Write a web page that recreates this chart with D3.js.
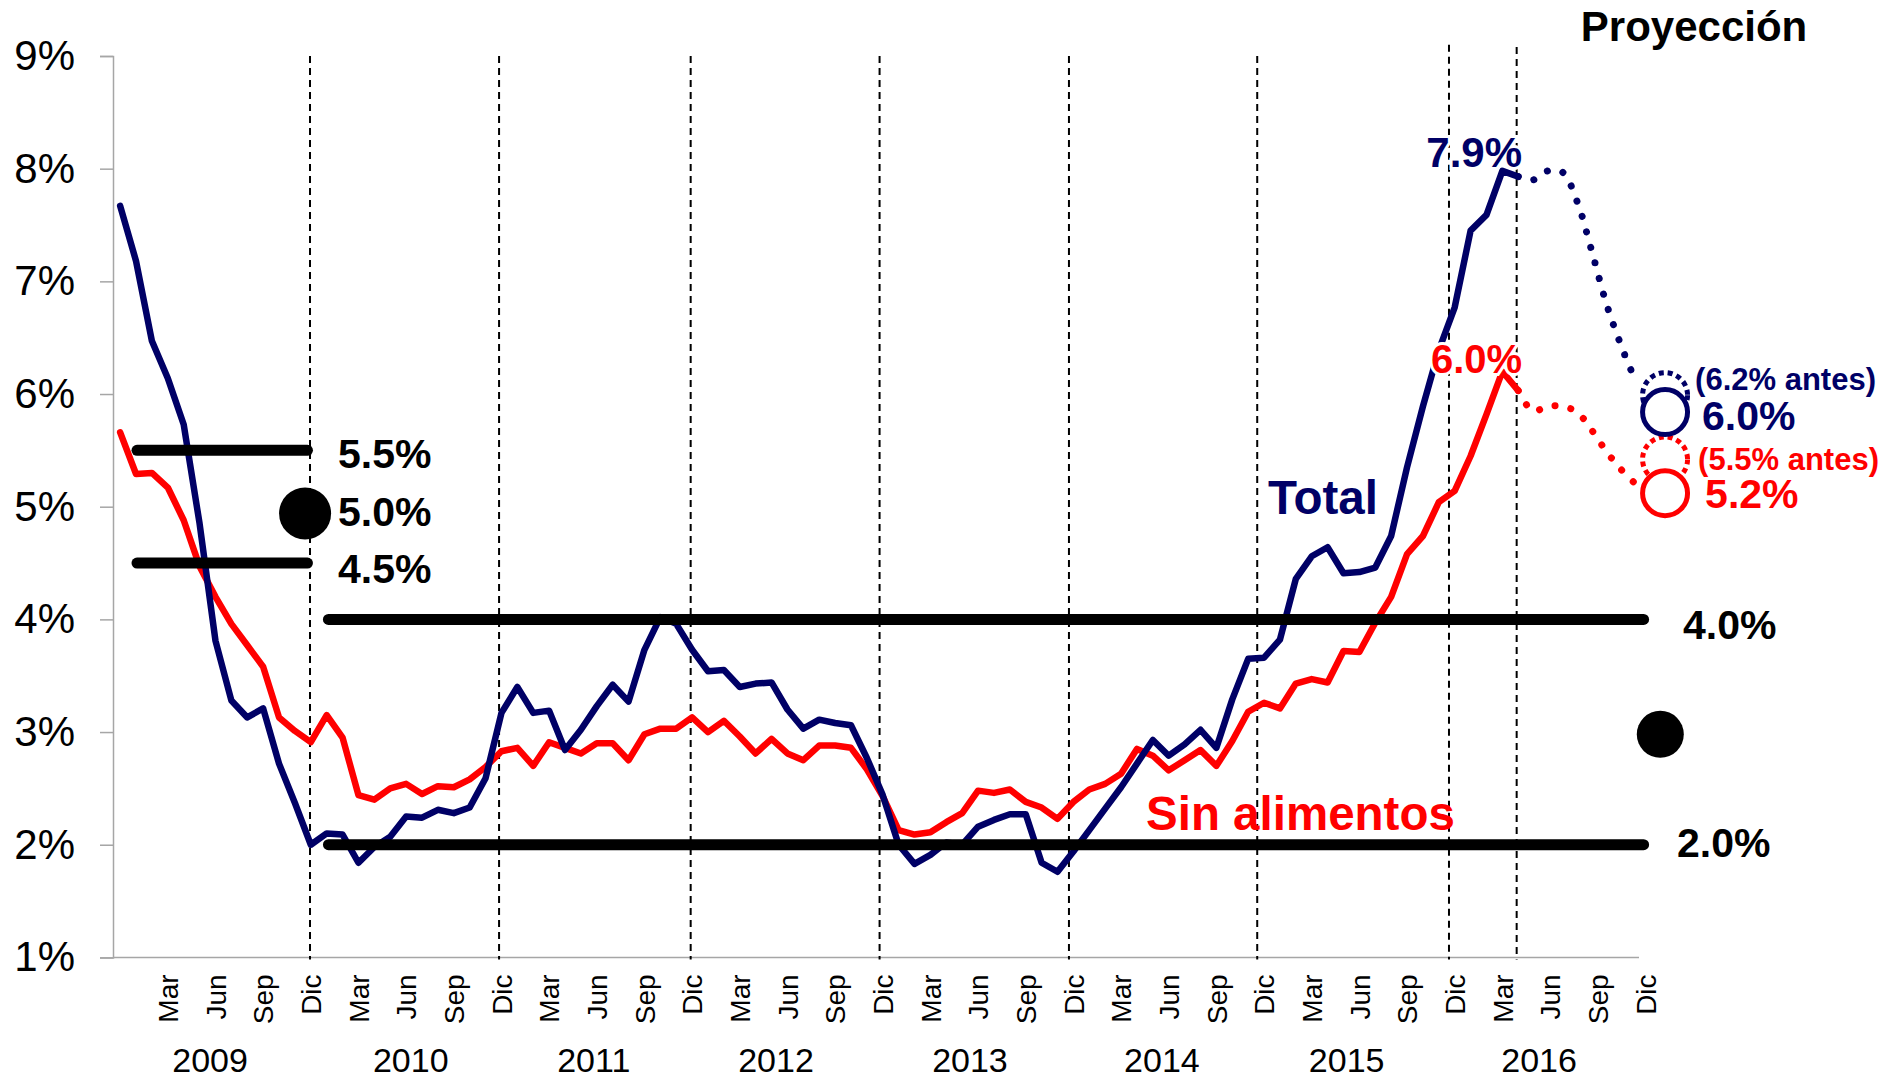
<!DOCTYPE html>
<html lang="es">
<head>
<meta charset="UTF-8">
<title>Inflación total y sin alimentos</title>
<script src="https://d3js.org/d3.v7.min.js"></script>
<style>
body {
  margin: 0;
  background: #fff;
}
svg {
  display: block;
  font-family: "Liberation Sans", Arial, Helvetica, sans-serif;
}
.axis path, .axis line {
  stroke: #a6a6a6;
  stroke-width: 1.5px;
}
.axis text {
  fill: #000;
}
</style>
</head>
<body>
<div id="chart"></div>
<script>

// months: 0 = Dic 2008 ... 88 = Abr 2016 (annual % change)
var total = [7.67,
  7.18, 6.47, 6.14, 5.73, 4.85, 3.81, 3.28, 3.13, 3.21, 2.72, 2.37, 2.00,
  2.10, 2.09, 1.84, 1.98, 2.07, 2.25, 2.24, 2.31, 2.28, 2.33, 2.59, 3.17,
  3.40, 3.17, 3.19, 2.84, 3.02, 3.23, 3.42, 3.27, 3.73, 4.02, 3.96, 3.73,
  3.54, 3.55, 3.40, 3.43, 3.44, 3.20, 3.03, 3.11, 3.08, 3.06, 2.77, 2.44,
  2.00, 1.83, 1.91, 2.02, 2.00, 2.16, 2.22, 2.27, 2.27, 1.84, 1.76, 1.94,
  2.13, 2.32, 2.51, 2.72, 2.93, 2.79, 2.89, 3.02, 2.86, 3.29, 3.65, 3.66,
  3.82, 4.36, 4.56, 4.64, 4.41, 4.42, 4.46, 4.74, 5.35, 5.89, 6.39, 6.77,
  7.45, 7.59, 7.98, 7.93];

var sinAlimentos = [5.66,
  5.29, 5.30, 5.17, 4.88, 4.47, 4.20, 3.96, 3.77, 3.58, 3.13, 3.01, 2.91,
  3.15, 2.95, 2.44, 2.40, 2.50, 2.54, 2.45, 2.52, 2.51, 2.58, 2.69, 2.83,
  2.86, 2.70, 2.91, 2.86, 2.81, 2.90, 2.90, 2.75, 2.98, 3.03, 3.03, 3.13,
  3.00, 3.10, 2.96, 2.81, 2.94, 2.81, 2.75, 2.88, 2.88, 2.86, 2.67, 2.43,
  2.13, 2.09, 2.11, 2.20, 2.28, 2.48, 2.46, 2.49, 2.38, 2.33, 2.23, 2.38,
  2.49, 2.54, 2.63, 2.85, 2.79, 2.66, 2.75, 2.84, 2.70, 2.92, 3.18, 3.26,
  3.21, 3.43, 3.47, 3.44, 3.72, 3.71, 3.97, 4.20, 4.58, 4.74, 5.04, 5.14,
  5.45, 5.82, 6.20, 6.03];

// projection Abr..Dic 2016 (dotted)
var totalProy = [7.93, 7.90, 7.98, 7.97, 7.71, 7.27, 6.80, 6.43, 6.11];
var sinAlimentosProy = [6.03, 5.85, 5.89, 5.89, 5.84, 5.68, 5.49, 5.33, 5.20];

var monthTicks = ["Mar", "Jun", "Sep", "Dic"];
var years = ["2009", "2010", "2011", "2012", "2013", "2014", "2015", "2016"];
var yearCenters = [5.66, 18.29, 29.81, 41.28, 53.49, 65.57, 77.2, 89.31];
var separators = [11.95, 23.85, 35.91, 47.8, 59.72, 71.57, 83.64, 87.9];
var separatorTop = [9, 9, 9, 9, 9, 9, 9.1, 9.08];
var yTicks = [1, 2, 3, 4, 5, 6, 7, 8, 9];

// target ranges: old 4.5-5.5 (2009) and 2-4
var targetBars = [
  {v: 5.5, from: 1.06, to: 11.79},
  {v: 4.5, from: 1.06, to: 11.79},
  {v: 4.0, from: 13.11, to: 95.89},
  {v: 2.0, from: 13.11, to: 95.89}
];
var targetDots = [{m: 11.64, v: 4.94, r: 26}, {m: 96.94, v: 2.98, r: 23.5}];

// projection end points: new and previous (antes)
var projCircles = [
  {m: 97.24, v: 5.99, color: "#000066", dashed: true},
  {m: 97.24, v: 5.42, color: "#ff0000", dashed: true},
  {m: 97.24, v: 5.84, color: "#000066", dashed: false},
  {m: 97.24, v: 5.12, color: "#ff0000", dashed: false}
];

var labels = [
  {text: "5.5%", m: 13.71, v: 5.5, dy: 18, size: 41, color: "#000"},
  {text: "5.0%", m: 13.71, v: 5.0, dy: 19, size: 41, color: "#000"},
  {text: "4.5%", m: 13.71, v: 4.5, dy: 20, size: 41, color: "#000"},
  {text: "4.0%", m: 98.37, v: 4.0, dy: 20, size: 41, color: "#000"},
  {text: "2.0%", m: 97.99, v: 2.0, dy: 12, size: 41, color: "#000"},
  {text: "Total", m: 72.25, v: 4.935, dy: 0, size: 47.5, color: "#000066"},
  {text: "Sin alimentos", m: 64.57, v: 2.13, dy: 0, size: 47.5, color: "#ff0000"},
  {text: "Proyección", m: 91.94, v: 9.133, dy: 0, size: 42, color: "#000"},
  {text: "(6.2% antes)", m: 99.13, v: 6.036, dy: 0, size: 31, color: "#000066"},
  {text: "6.0%", m: 99.57, v: 5.68, dy: 0, size: 41, color: "#000066"},
  {text: "(5.5% antes)", m: 99.32, v: 5.326, dy: 0, size: 31, color: "#ff0000"},
  {text: "5.2%", m: 99.76, v: 4.99, dy: 0, size: 41, color: "#ff0000"}
];
var lastLabels = [
  {text: "7.9%", m: 88.24, v: 7.98, dy: -4, size: 42, color: "#000066"},
  {text: "6.0%", m: 88.24, v: 6.20, dy: 2, size: 40, color: "#ff0000"}
];

var width = 1882, height = 1079;

var svg = d3.select("#chart")
  .append("svg")
    .attr("width", width)
    .attr("height", height);

svg.append("rect").attr("width", width).attr("height", height).attr("fill", "#fff");

var x = d3.scaleLinear().domain([-0.45, 95.6]).range([113, 1639]);
var y = d3.scaleLinear().domain([1, 9]).range([957.4, 56]);
var xProy = d3.scaleLinear().domain([0, 8]).range([x(88), x(95.4)]);

// Y axis
var yAxis = svg.append("g")
  .attr("class", "axis")
  .attr("transform", "translate(" + x.range()[0] + ",0)")
  .call(d3.axisLeft(y).tickValues(yTicks).tickSize(13).tickPadding(25)
    .tickFormat(function(d) { return d + "%"; }));
yAxis.selectAll("text").style("font-size", "42px");

// X axis with month labels
var tickVals = [], tickNames = {};
for (var i = 1; i <= 32; i++) {
  tickVals.push(3 * i);
  tickNames[3 * i] = monthTicks[(i - 1) % 4];
}
var xAxis = svg.append("g")
  .attr("class", "axis")
  .attr("transform", "translate(0," + y(1) + ")")
  .call(d3.axisBottom(x).tickValues(tickVals).tickSize(0)
    .tickFormat(function(d) { return tickNames[d]; }));
xAxis.select(".domain").attr("d", "M" + x.range()[0] + ",0H" + x.range()[1]);
xAxis.selectAll("text")
  .style("font-size", "28px")
  .attr("text-anchor", "end")
  .attr("transform", "rotate(-90)")
  .attr("x", -17)
  .attr("y", 0)
  .attr("dy", "0.35em");

svg.append("g").selectAll("text")
  .data(years)
  .join("text")
    .attr("x", function(d, i) { return x(yearCenters[i]); })
    .attr("y", 1072)
    .attr("text-anchor", "middle")
    .style("font-size", "34px")
    .text(function(d) { return d; });

// year separators
svg.append("g").selectAll("line")
  .data(separators)
  .join("line")
    .attr("x1", function(d) { return x(d); })
    .attr("x2", function(d) { return x(d); })
    .attr("y1", function(d, i) { return y(separatorTop[i]); })
    .attr("y2", y(1) + 2)
    .attr("stroke", "#000")
    .attr("stroke-width", 2)
    .attr("stroke-dasharray", "7,5");

// series
var line = d3.line()
  .x(function(d, i) { return x(i); })
  .y(function(d) { return y(d); });
var lineProy = d3.line()
  .x(function(d, i) { return xProy(i); })
  .y(function(d) { return y(d); })
  .curve(d3.curveCatmullRom);

[[sinAlimentos, sinAlimentosProy, "#ff0000"], [total, totalProy, "#000066"]].forEach(function(s) {
  svg.append("path")
    .datum(s[0])
    .attr("d", line)
    .attr("fill", "none")
    .attr("stroke", s[2])
    .attr("stroke-width", 6.5)
    .attr("stroke-linejoin", "round")
    .attr("stroke-linecap", "round");
  svg.append("path")
    .datum(s[1])
    .attr("d", lineProy)
    .attr("fill", "none")
    .attr("stroke", s[2])
    .attr("stroke-width", 7)
    .attr("stroke-linecap", "round")
    .attr("stroke-dasharray", "0.1,16");
});

// target range bars
svg.append("g").selectAll("line")
  .data(targetBars)
  .join("line")
    .attr("x1", function(d) { return x(d.from); })
    .attr("x2", function(d) { return x(d.to); })
    .attr("y1", function(d) { return y(d.v); })
    .attr("y2", function(d) { return y(d.v); })
    .attr("stroke", "#000")
    .attr("stroke-width", 11)
    .attr("stroke-linecap", "round");

svg.append("g").selectAll("circle")
  .data(targetDots)
  .join("circle")
    .attr("cx", function(d) { return x(d.m); })
    .attr("cy", function(d) { return y(d.v); })
    .attr("r", function(d) { return d.r; })
    .attr("fill", "#000");

// projection circles
svg.append("g").selectAll("circle")
  .data(projCircles)
  .join("circle")
    .attr("cx", function(d) { return x(d.m); })
    .attr("cy", function(d) { return y(d.v); })
    .attr("r", 22.5)
    .attr("fill", "#fff")
    .attr("stroke", function(d) { return d.color; })
    .attr("stroke-width", 5)
    .attr("stroke-dasharray", function(d) { return d.dashed ? "5,4" : null; });

// labels
svg.append("g").selectAll("text")
  .data(labels)
  .join("text")
    .attr("x", function(d) { return x(d.m); })
    .attr("y", function(d) { return y(d.v) + d.dy; })
    .attr("fill", function(d) { return d.color; })
    .style("font-size", function(d) { return d.size + "px"; })
    .style("font-weight", "bold")
    .text(function(d) { return d.text; });

svg.append("g").selectAll("text")
  .data(lastLabels)
  .join("text")
    .attr("x", function(d) { return x(d.m); })
    .attr("y", function(d) { return y(d.v) + d.dy; })
    .attr("text-anchor", "end")
    .attr("fill", function(d) { return d.color; })
    .attr("stroke", "#fff")
    .attr("stroke-width", 6)
    .attr("paint-order", "stroke")
    .style("font-size", function(d) { return d.size + "px"; })
    .style("font-weight", "bold")
    .text(function(d) { return d.text; });

</script>
</body>
</html>
